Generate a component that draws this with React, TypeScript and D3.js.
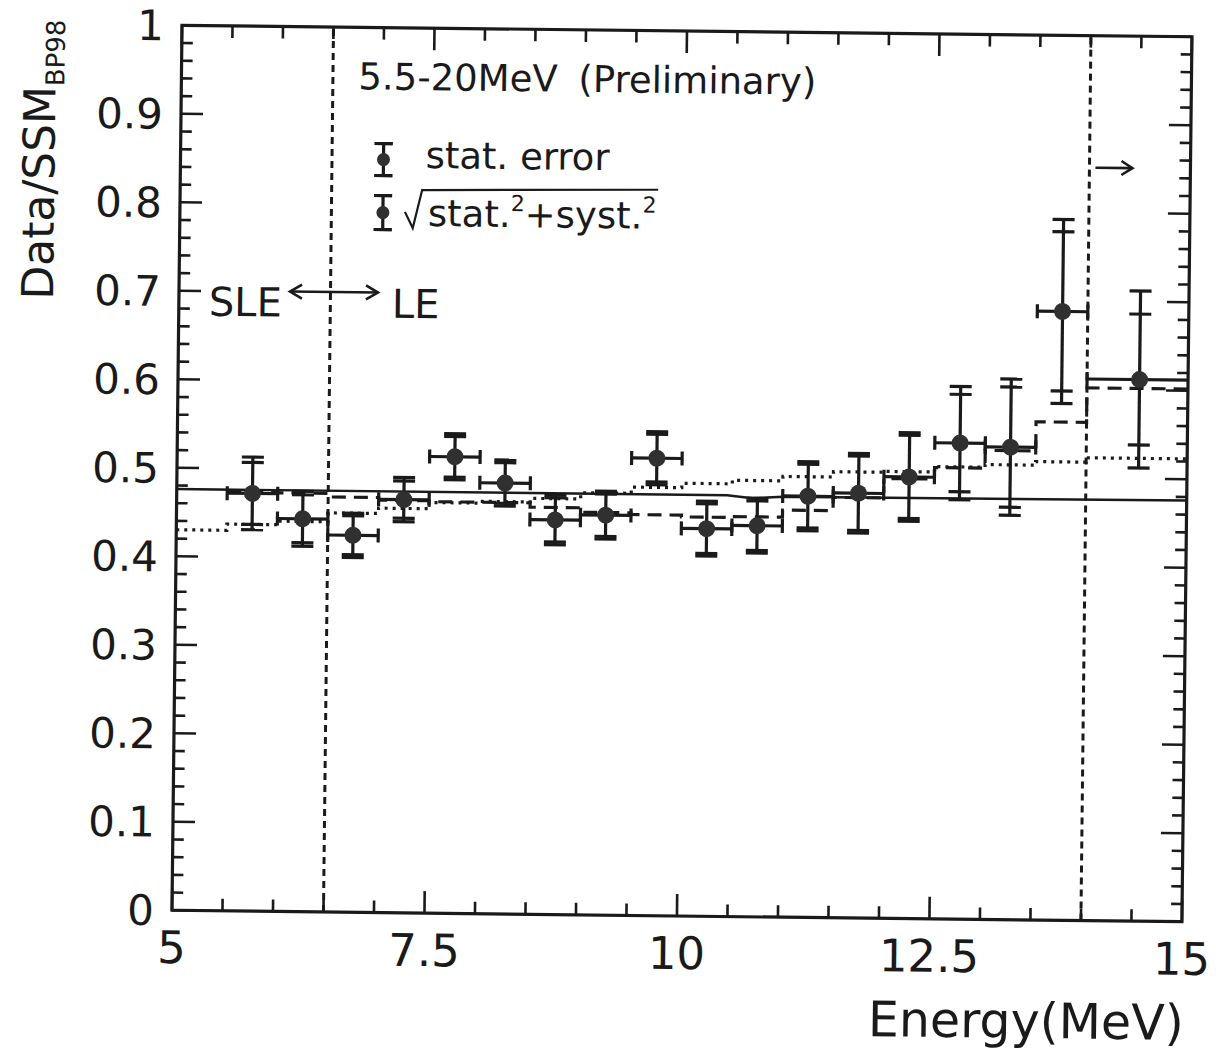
import React from 'react'
import * as d3 from 'd3'

// measured points (one bin each, last bin 14-20 MeV is cut at the frame)
const energy = [5.75, 6.25, 6.75, 7.25, 7.75, 8.25, 8.75, 9.25, 9.75, 10.25, 10.75, 11.25, 11.75, 12.25, 12.75, 13.25, 13.75, 14.52]
const binLo = [5.5, 6, 6.5, 7, 7.5, 8, 8.5, 9, 9.5, 10, 10.5, 11, 11.5, 12, 12.5, 13, 13.5, 14]
const binHi = [6, 6.5, 7, 7.5, 8, 8.5, 9, 9.5, 10, 10.5, 11, 11.5, 12, 12.5, 13, 13.5, 14, 15]
const ratio = [0.472, 0.444, 0.426, 0.467, 0.516, 0.487, 0.446, 0.452, 0.517, 0.438, 0.442, 0.476, 0.48, 0.499, 0.538, 0.534, 0.688, 0.612]
const statErr = [0.035, 0.027, 0.022, 0.021, 0.023, 0.023, 0.025, 0.024, 0.027, 0.028, 0.028, 0.036, 0.042, 0.047, 0.055, 0.068, 0.09, 0.074]
const totErr = [0.041, 0.031, 0.025, 0.025, 0.026, 0.026, 0.028, 0.027, 0.03, 0.031, 0.031, 0.039, 0.045, 0.05, 0.064, 0.077, 0.104, 0.1]

// model curves
const solidE = [5, 10.45, 10.7, 11.0, 15]
const solidR = [0.476, 0.476, 0.473, 0.475, 0.476]
const dashEdges = [5.5, 6, 6.5, 7, 7.5, 8, 8.5, 9, 9.5, 10, 10.5, 11, 11.5, 12, 12.5, 13, 13.5, 14, 15]
const dashR = [0.475, 0.473, 0.469, 0.466, 0.465, 0.465, 0.46, 0.455, 0.453, 0.451, 0.452, 0.46, 0.475, 0.497, 0.51, 0.53, 0.563, 0.602]
const dotEdges = [5, 5.5, 6, 6.5, 7, 7.5, 8, 8.5, 9, 9.5, 10, 10.5, 11, 11.5, 12, 12.5, 13, 13.5, 14, 15]
const dotR = [0.43, 0.437, 0.441, 0.451, 0.457, 0.464, 0.466, 0.47, 0.477, 0.484, 0.489, 0.493, 0.498, 0.504, 0.505, 0.511, 0.514, 0.518, 0.523]

const xTicks = [5, 7.5, 10, 12.5, 15]
const yTicks = [0, 0.1, 0.2, 0.3, 0.4, 0.5, 0.6, 0.7, 0.8, 0.9, 1]
const cutLines = [6.5, 14]

const ink = '#1a1a1a'

const x = d3.scaleLinear().domain([5, 15]).range([177, 1187])
const y = d3.scaleLinear().domain([0, 1]).range([916, 31])

const step = (edges: number[], vals: number[]) =>
  d3.line<number>()
    .x(e => x(e))
    .y((_, i) => y(vals[Math.min(i, vals.length - 1)]))
    .curve(d3.curveStepAfter)(edges)

const ErrBar = ({ cx, cy, st, tt, cap = 11 }: { cx: number, cy: number, st: number, tt: number, cap?: number }) => (
  <g stroke={ink} strokeWidth={3.2}>
    <line x1={cx} x2={cx} y1={cy - tt} y2={cy + tt} />
    <line x1={cx - cap} x2={cx + cap} y1={cy - st} y2={cy - st} />
    <line x1={cx - cap} x2={cx + cap} y1={cy + st} y2={cy + st} />
    <line x1={cx - cap} x2={cx + cap} y1={cy - tt} y2={cy - tt} />
    <line x1={cx - cap} x2={cx + cap} y1={cy + tt} y2={cy + tt} />
  </g>
)

const App = () => {
  const [x0, x1] = x.range()
  const [y0, y1] = y.range()
  const minorY = d3.range(0, 1.0001, 0.02)
  const minorX = d3.range(5, 15.0001, 0.5)
  const solid = d3.line<number>().x(e => x(e)).y((_, i) => y(solidR[i]))(solidE)

  return (
    <svg width={1216} height={1053} style={{ position: 'absolute', left: 0, top: 0, background: '#fff' }}
      fontFamily="'DejaVu Sans', sans-serif">
      <g transform="rotate(0.65 680 470)">
        {/* frame */}
        <rect x={x0} y={y1} width={x1 - x0} height={y0 - y1} fill="none" stroke={ink} strokeWidth={3.2} />

        {/* y ticks, both sides */}
        {minorY.map((v, i) => {
          const major = i % 5 === 0
          const len = major ? 22 : 11
          return (
            <g key={'y' + i} stroke={ink} strokeWidth={2.6}>
              <line x1={x0} x2={x0 + len} y1={y(v)} y2={y(v)} />
              <line x1={x1} x2={x1 - len} y1={y(v)} y2={y(v)} />
            </g>
          )
        })}
        {/* x ticks, bottom and top */}
        {minorX.map((v, i) => {
          const major = i % 5 === 0
          const len = major ? 22 : 12
          return (
            <g key={'x' + i} stroke={ink} strokeWidth={2.6}>
              <line x1={x(v)} x2={x(v)} y1={y0} y2={y0 - len} />
              <line x1={x(v)} x2={x(v)} y1={y1} y2={y1 + len} />
            </g>
          )
        })}

        {yTicks.map(v => (
          <text key={'yl' + v} x={159} y={y(v)} dy="0.36em" textAnchor="end" fontSize={42} fill={ink}>
            {v === 0 || v === 1 ? String(v) : v.toFixed(1)}
          </text>
        ))}
        {xTicks.map(v => (
          <text key={'xl' + v} x={x(v)} y={969} textAnchor="middle" fontSize={45} fill={ink}>{v}</text>
        ))}

        {/* axis titles */}
        <text x={1190} y={1034} textAnchor="end" fontSize={49} fill={ink}>Energy(MeV)</text>
        <text transform="translate(51,307) rotate(-90)" fontSize={44} fill={ink}>
          Data/SSM<tspan fontSize={26} dy={9}>BP98</tspan>
        </text>

        {/* SLE / LE boundaries */}
        {cutLines.map(c => (
          <line key={'c' + c} x1={x(c)} x2={x(c)} y1={y0} y2={y1} stroke={ink} strokeWidth={3} strokeDasharray="7 5" />
        ))}

        {/* model curves */}
        <path d={solid ?? ''} fill="none" stroke={ink} strokeWidth={2.4} />
        <path d={step(dashEdges, dashR) ?? ''} fill="none" stroke={ink} strokeWidth={3.2} strokeDasharray="14 8" />
        <path d={step(dotEdges, dotR) ?? ''} fill="none" stroke={ink} strokeWidth={3.2} strokeDasharray="3 5" />

        {/* data */}
        {energy.map((e, i) => {
          const cx = x(e)
          const cy = y(ratio[i])
          const st = y(0) - y(statErr[i])
          const tt = y(0) - y(totErr[i])
          return (
            <g key={'p' + i}>
              <g stroke={ink} strokeWidth={3.2}>
                <line x1={x(binLo[i])} x2={x(binHi[i])} y1={cy} y2={cy} />
                <line x1={x(binLo[i])} x2={x(binLo[i])} y1={cy - 7} y2={cy + 7} />
                {binHi[i] < 15 && <line x1={x(binHi[i])} x2={x(binHi[i])} y1={cy - 7} y2={cy + 7} />}
              </g>
              <ErrBar cx={cx} cy={cy} st={st} tt={tt} />
              <circle cx={cx} cy={cy} r={8.5} fill="#303030" />
            </g>
          )
        })}

        {/* labels */}
        <text x={354} y={93} fontSize={37} fill={ink}>5.5-20MeV</text>
        <text x={574} y={93} fontSize={37} fill={ink}>(Preliminary)</text>

        <ErrBar cx={380} cy={163} st={16} tt={16} cap={9} />
        <circle cx={380} cy={163} r={6.5} fill="#303030" />
        <text x={422} y={171} fontSize={37} fill={ink}>stat. error</text>

        <ErrBar cx={380} cy={216} st={17} tt={17} cap={9} />
        <circle cx={380} cy={216} r={6.5} fill="#303030" />
        <path d="M402,215 L410,231 L419,193 L655,190" fill="none" stroke={ink} strokeWidth={2.2} />
        <text x={425} y={229} fontSize={37} fill={ink}>
          stat.<tspan fontSize={22} dy={-16}>2</tspan><tspan dy={16}>+syst.</tspan><tspan fontSize={22} dy={-16}>2</tspan>
        </text>

        <text x={207} y={321} fontSize={40} fill={ink}>SLE</text>
        <text x={390} y={321} fontSize={40} fill={ink}>LE</text>
        <g fill="none" stroke={ink} strokeWidth={2.6}>
          <line x1={288} x2={376} y1={296} y2={296} />
          <path d="M300,289 L288,296 L300,303" />
          <path d="M364,289 L376,296 L364,303" />
          <line x1={1092} x2={1129} y1={163} y2={163} />
          <path d="M1118,156 L1129,163 L1118,170" />
        </g>
      </g>
    </svg>
  )
}

export default App
